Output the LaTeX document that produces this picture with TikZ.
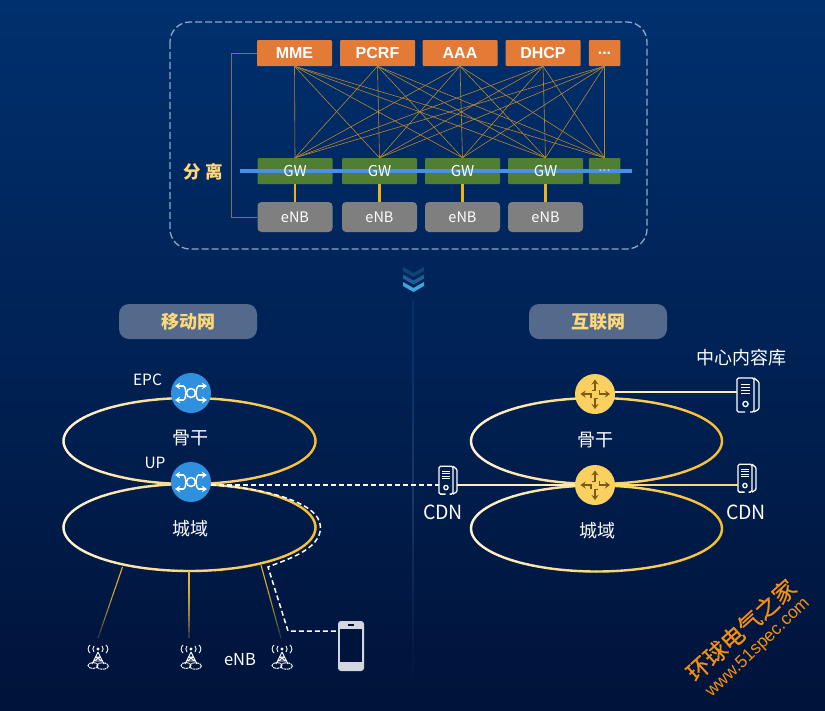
\documentclass[tikz,border=0pt]{standalone}
\usepackage{fontspec}
\setmainfont{Noto Sans CJK SC}
\newfontfamily\arialfont{Liberation Sans}
\newfontfamily\cjkmid[FakeBold=0.6]{Noto Sans CJK SC}
\usetikzlibrary{arrows.meta,calc}
\definecolor{bgTop}{HTML}{00306E}
\definecolor{bgBot}{HTML}{00133A}
\definecolor{ringL}{HTML}{FFF3CF}
\definecolor{ringR}{HTML}{F9BD2B}
\definecolor{orangeBox}{HTML}{E37B37}
\definecolor{greenBox}{HTML}{507E35}
\definecolor{grayBox}{HTML}{7F7F7F}
\definecolor{meshCol}{HTML}{B9852F}
\definecolor{linkCol}{HTML}{EAB515}
\definecolor{brkCol}{HTML}{7A7462}
\definecolor{dashCol}{HTML}{8FA8C8}
\definecolor{busCol}{HTML}{4A90E2}
\definecolor{blueHub}{HTML}{2F90E0}
\definecolor{yellowHub}{HTML}{FAD161}
\definecolor{brownIcon}{HTML}{7B5C12}
\definecolor{pillCol}{HTML}{536A8C}
\definecolor{goldText}{HTML}{FFD878}
\definecolor{creamLine}{HTML}{FFEEB5}
\definecolor{goldLine}{HTML}{FCD87A}
\definecolor{fadeTop}{HTML}{E8B52A}
\definecolor{fadeBot}{HTML}{1D2C4A}
\definecolor{phoneCol}{HTML}{D2D6DE}
\definecolor{markCol}{HTML}{F5900E}
\definecolor{chevA}{HTML}{0F4478}
\definecolor{chevB}{HTML}{1A5F99}
\definecolor{chevC}{HTML}{3FA7DC}
\definecolor{divC}{HTML}{183767}
\newcommand{\gradring}[4]{%
  \foreach \a in {0,3,...,357}{%
    \pgfmathtruncatemacro\ff{50+50*cos(\a+1.5)}%
    \pgfmathsetmacro\bb{\a+3}%
    \draw[line width=2.4pt,line cap=round,draw=ringR!\ff!ringL]
      ({#1+#3*cos(\a)},{#2+#4*sin(\a)}) -- ({#1+#3*cos(\bb)},{#2+#4*sin(\bb)});
  }}
\newcommand{\fadeline}[2]{%
  \foreach \t in {0,...,11}{%
    \pgfmathsetmacro\ta{\t/12}\pgfmathsetmacro\tb{(\t+1)/12}%
    \pgfmathtruncatemacro\pp{100-88*(\t/11)*(\t/11)}%
    \draw[line width=1.1pt,draw=fadeTop!\pp!fadeBot] ($(#1)!\ta!(#2)$) -- ($(#1)!\tb!(#2)$);
  }}
\tikzset{
  x=1pt,y=-1pt,
  obox/.style={draw=none,fill=orangeBox,rounded corners=1pt,inner sep=0pt,text=white,font=\arialfont\bfseries\fontsize{16}{16}\selectfont},
  gbox/.style={draw=none,fill=greenBox,rounded corners=1pt,inner sep=0pt},
  gtext/.style={inner sep=0pt,text=white,font=\fontsize{15}{15}\selectfont},
  nbox/.style={draw=none,fill=grayBox,rounded corners=4pt,inner sep=0pt,text=white,font=\fontsize{14.5}{15}\selectfont},
  meshline/.style={draw=meshCol,line width=0.6pt},
  linkline/.style={draw=linkCol,line width=2.2pt},
  pillbox/.style={fill=pillCol,rounded corners=10pt,minimum width=138pt,minimum height=35pt,inner sep=0pt,text=goldText,font=\bfseries\fontsize{18}{18}\selectfont},
  lbl/.style={text=white,inner sep=0pt,font=\fontsize{15.5}{16}\selectfont},
  lblbig/.style={text=white,inner sep=0pt,font=\fontsize{18}{18}\selectfont},
  lblcdn/.style={text=white,inner sep=0pt,font=\fontsize{19.5}{20}\selectfont},
  hubblue/.style={circle,fill=blueHub,minimum size=40pt,inner sep=0pt},
  hubyellow/.style={circle,fill=yellowHub,minimum size=40pt,inner sep=0pt},
  wdash/.style={draw=white,line width=1.5pt,dash pattern=on 5pt off 3pt},
  crossicon/.pic={
    \draw[white,line width=1.6pt,-{Stealth[length=5pt,width=6.5pt]}] (-7,-7) -- (-16,-7);
    \draw[white,line width=1.6pt,-{Stealth[length=5pt,width=6.5pt]}] (-7,7) -- (-16,7);
    \draw[white,line width=1.6pt,-{Stealth[length=5pt,width=6.5pt]}] (7,-7) -- (16,-7);
    \draw[white,line width=1.6pt,-{Stealth[length=5pt,width=6.5pt]}] (7,7) -- (16,7);
    \draw[white,line width=1.5pt] (-8,-7) .. controls (-6,-7) and (-5,-3) .. (-5,0) .. controls (-5,3) and (-6,7) .. (-8,7);
    \draw[white,line width=1.5pt] (8,-7) .. controls (6,-7) and (5,-3) .. (5,0) .. controls (5,3) and (6,7) .. (8,7);
    \draw[white,line width=1.5pt] (0,0) circle[radius=4.5];
  },
  routeicon/.pic={
    \draw[brownIcon,line width=1.6pt,-{Stealth[length=5pt,width=7pt]}] (-3,-3.5) -- (0,-3.5) -- (0,-14.5);
    \draw[brownIcon,line width=1.6pt,-{Stealth[length=5pt,width=7pt]}] (3,4.5) -- (0,4.5) -- (0,15);
    \draw[brownIcon,line width=1.6pt,-{Stealth[length=5pt,width=7pt]}] (-4,3.5) -- (-4,0) -- (-14.5,0);
    \draw[brownIcon,line width=1.6pt,-{Stealth[length=5pt,width=7pt]}] (4.5,-4) -- (4.5,0) -- (15,0);
  },
  servericon/.pic={
    \draw[white,line width=1.3pt,rounded corners=1.5pt] (-3,16) -- (-11,16) -- (-11,-18) -- (6,-18) -- (6,16) -- (2,16);
    \draw[white,line width=1.3pt,rounded corners=1pt] (6,-18) -- (11,-14) -- (11,13) -- (6,16);
    \draw[white,line width=1pt] (-7,-12) -- (2,-12) (-7,-9) -- (2,-9) (-7,-6) -- (2,-6) (-7,-3) -- (2,-3);
    \draw[white,line width=1.3pt] (-2.5,8) circle[radius=2.6];
  },
  antennaicon/.pic={
    \fill[white] (0,0) circle[radius=1.7];
    \draw[white,line width=0.9pt] (-4,-3) .. controls (-5.5,-1) and (-5.5,1) .. (-4,3);
    \draw[white,line width=0.9pt] (4,-3) .. controls (5.5,-1) and (5.5,1) .. (4,3);
    \draw[white,line width=0.9pt] (-8,-4) .. controls (-10.5,-1.5) and (-10.5,1.5) .. (-8,4);
    \draw[white,line width=0.9pt] (8,-4) .. controls (10.5,-1.5) and (10.5,1.5) .. (8,4);
    \draw[white,line width=0.9pt] (0,3) -- (-6,15) (0,3) -- (6,15) (-2.5,8) -- (2.5,8) (-4,12) -- (4,12) (-4,12) -- (2.5,8) (4,12) -- (-2.5,8);
    \draw[white,line width=0.9pt,dash pattern=on 3pt off 0.7pt] (-5,16.5) ellipse[x radius=5,y radius=3];
    \draw[white,line width=0.9pt,dash pattern=on 3pt off 0.7pt] (4.5,17) ellipse[x radius=6,y radius=3.2];
  }
}
\begin{document}
\begin{tikzpicture}
\shade[top color=bgTop,bottom color=bgBot] (0,0) rectangle (825,710);
\useasboundingbox (0,0) rectangle (825,710);

% top dashed frame
\draw[draw=dashCol,line width=1.3pt,dash pattern=on 7pt off 3pt,rounded corners=20pt] (170,22) rectangle (647,249);

% control plane
\node[obox,minimum width=75pt,minimum height=26pt] (o1) at (294.5,53) {MME};
\node[obox,minimum width=75pt,minimum height=26pt] (o2) at (377.5,53) {PCRF};
\node[obox,minimum width=75pt,minimum height=26pt] (o3) at (460,53) {AAA};
\node[obox,minimum width=75pt,minimum height=26pt] (o4) at (543,53) {DHCP};
\node[obox,minimum width=31.5pt,minimum height=26pt] (o5) at (604.5,53) {...};

% gateways
\node[gbox,minimum width=75pt,minimum height=26pt] (g1) at (295,171) {};
\node[gbox,minimum width=75pt,minimum height=26pt] (g2) at (379.5,171) {};
\node[gbox,minimum width=75pt,minimum height=26pt] (g3) at (462.5,171) {};
\node[gbox,minimum width=75pt,minimum height=26pt] (g4) at (545.5,171) {};
\node[gbox,minimum width=31.5pt,minimum height=26pt] (g5) at (604.5,171) {};

% eNB row
\node[nbox,minimum width=75pt,minimum height=30pt] (e1) at (295,217) {eNB};
\node[nbox,minimum width=75pt,minimum height=30pt] (e2) at (379.5,217) {eNB};
\node[nbox,minimum width=75pt,minimum height=30pt] (e3) at (462.5,217) {eNB};
\node[nbox,minimum width=75pt,minimum height=30pt] (e4) at (545.5,217) {eNB};

\foreach \u in {o1,o2,o3,o4,o5}
  \foreach \v in {g1,g2,g3,g4,g5}
    \draw[meshline] (\u.south) -- (\v.north);
\foreach \i in {1,2,3,4}
  \draw[linkline] (g\i.south) -- (e\i.north);

\draw[draw=brkCol,line width=1pt] (o1.west) -| (231,217) -- (e1.west);

\coordinate (busL) at (240,171);
\coordinate (busR) at (632,171);
\draw[draw=busCol,line width=3.5pt] (busL) -- (busR);
\foreach \i in {1,2,3,4}
  \node[gtext] (gt\i) at (g\i) {GW};
\node[gtext,text=white!55!busCol] (gt5) at (g5) {...};

\node[text=goldText,inner sep=0pt,font=\bfseries\fontsize{17.5}{18}\selectfont] (sep) at (203,172) {分 离};

% chevrons
\fill[fill=chevA] (403,267) -- (413.5,273) -- (424,267) -- (424,271) -- (413.5,277) -- (403,271) -- cycle;
\fill[fill=chevB] (403,274.5) -- (413.5,280.5) -- (424,274.5) -- (424,278.5) -- (413.5,284.5) -- (403,278.5) -- cycle;
\fill[fill=chevC] (403,282) -- (413.5,288) -- (424,282) -- (424,286) -- (413.5,292) -- (403,286) -- cycle;

% divider
\shade[top color=bgTop,bottom color=bgBot,middle color=divC] (412.6,300) rectangle (413.4,690);

% pills
\node[pillbox] (p1) at (188,321.5) {移动网};
\node[pillbox] (p2) at (598,321.5) {互联网};

% left rings
\gradring{189.5}{441}{126}{43}
\gradring{189.5}{527.5}{126}{43.5}
% right rings
\gradring{596.5}{441}{125.5}{43}
\gradring{596.5}{528.5}{125.5}{43}

% eNB feeders
\coordinate (f1) at (122.5,567);
\coordinate (f2) at (189,571);
\coordinate (f3) at (261,565);
\coordinate (a1) at (98,638);
\coordinate (a2) at (189,638);
\coordinate (a3) at (281,638);
\fadeline{f1}{a1}
\fadeline{f2}{a2}
\fadeline{f3}{a3}

% hubs
\node[hubblue] (epc) at (191,393) {};
\node[hubblue] (up) at (191,482) {};
\node[hubyellow] (r1) at (595,394) {};
\node[hubyellow] (r2) at (595,485) {};
\pic at (epc) {crossicon};
\pic at (up) {crossicon};
\pic at (r1) {routeicon};
\pic at (r2) {routeicon};

% servers
\coordinate (s1) at (748,396);
\coordinate (s2) at (448,481);
\coordinate (s3) at (747,479);
\pic at (s1) {servericon};
\pic[scale=0.82] at (s2) {servericon};
\pic[scale=0.82] at (s3) {servericon};
\coordinate (s1w) at (736.5,392);
\coordinate (s2e) at (457,485);
\coordinate (s2w) at (439,485);
\coordinate (s3w) at (738,485);
\draw[draw=creamLine,line width=2pt] (r1.east |- s1w) -- (s1w);
\draw[draw=creamLine,line width=2pt] (s2e) -- (r2.west);
\draw[draw=goldLine,line width=2pt] (r2.east) -- (s3w);

% dashed links
\coordinate (upe) at (211,485);
\draw[wdash] (upe) -- (s2w);
\coordinate (k1) at (268,567);
\coordinate (k2) at (288,631);
\node[fill=phoneCol,rounded corners=3pt,minimum width=26pt,minimum height=50pt,inner sep=0pt] (phone) at (351,646) {};
\fill[fill=bgBot] (340,629) rectangle (362,662);
\fill[fill=bgBot!80!black] (347.5,624.3) rectangle (354,626);
\draw[wdash] (upe) .. controls (255,487) and (320,500) .. (320.5,527) .. controls (321,550) and (285,560) .. (k1) -- (k2) -- (phone.west |- k2);

% antennas
\pic at (98,649) {antennaicon};
\pic at (191,649) {antennaicon};
\pic at (282,649) {antennaicon};

% labels
\node[lbl] (tepc) at (147.5,380) {EPC};
\node[lbl] (tup) at (155,463) {UP};
\node[lblbig] (t1) at (190,438) {骨干};
\node[lblbig] (t2) at (190,529) {城域};
\node[lbl,font=\fontsize{16.5}{17}\selectfont] (tenb) at (240,660) {eNB};
\node[lblbig] (t3) at (595,440) {骨干};
\node[lblbig] (t4) at (597,531) {城域};
\node[lblbig] (t5) at (741,358) {中心内容库};
\node[lblcdn] (t6) at (443,512) {CDN};
\node[lblcdn] (t7) at (746,512) {CDN};

% watermark
\node[text=markCol,inner sep=0pt,rotate=42,font=\cjkmid\fontsize{23}{23}\selectfont] (w1) at (741,630) {环球电气之家};
\node[text=markCol,inner sep=0pt,rotate=43.5,font=\arialfont\fontsize{17.5}{18}\selectfont] (w2) at (758,648) {www.51spec.com};
\end{tikzpicture}
\end{document}
